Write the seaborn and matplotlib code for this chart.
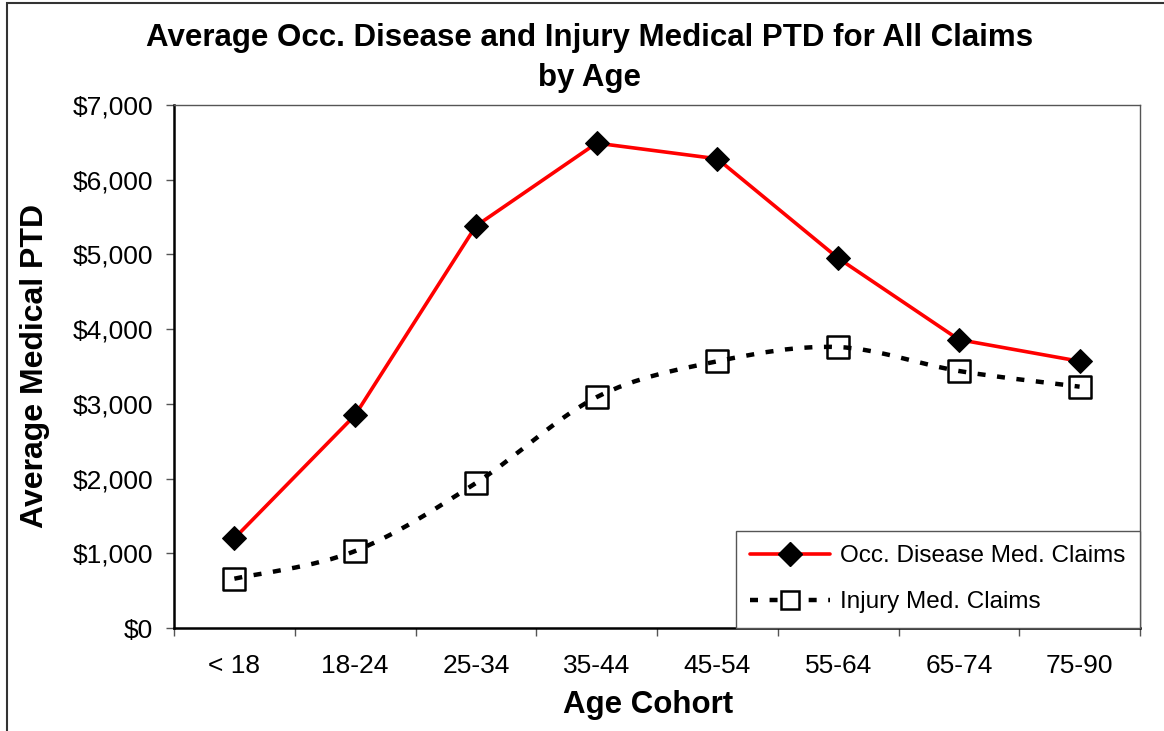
import numpy as np
import pandas as pd
import matplotlib
matplotlib.use('Agg')
import matplotlib.pyplot as plt
from matplotlib.path import Path
from matplotlib.patches import PathPatch, Rectangle
from matplotlib.lines import Line2D
from matplotlib.ticker import FuncFormatter
import seaborn as sns

# data
age_cohorts = ['< 18', '18-24', '25-34', '35-44', '45-54', '55-64', '65-74', '75-90']
occ_disease = [1200, 2850, 5380, 6490, 6280, 4950, 3860, 3570]
injury = [660, 1030, 1940, 3090, 3570, 3760, 3440, 3230]

title = 'Average Occ. Disease and Injury Medical PTD for All Claims\nby Age'
occ_label = 'Occ. Disease Med. Claims'
inj_label = 'Injury Med. Claims'


def smooth_path(xs, ys):
    # Excel-style smoothed line: Catmull-Rom segments as cubic Bezier curves
    pts = np.column_stack([xs, ys]).astype(float)
    verts = [pts[0]]
    codes = [Path.MOVETO]
    n = len(pts)
    for i in range(n - 1):
        p0 = pts[i - 1] if i > 0 else pts[i]
        p1 = pts[i]
        p2 = pts[i + 1]
        p3 = pts[i + 2] if i + 2 < n else pts[i + 1]
        c1 = p1 + (p2 - p0) / 6.0
        c2 = p2 - (p3 - p1) / 6.0
        verts += [c1, c2, p2]
        codes += [Path.CURVE4] * 3
    return Path(verts, codes)


def main():
    sns.set_style('white')
    plt.rcParams['font.family'] = ['Liberation Sans', 'DejaVu Sans']
    plt.rcParams['text.color'] = 'black'
    plt.rcParams['xtick.color'] = 'black'
    plt.rcParams['ytick.color'] = 'black'
    plt.rcParams['axes.labelcolor'] = 'black'

    df = pd.DataFrame({'pos': np.arange(len(age_cohorts)),
                       'cohort': age_cohorts,
                       'occ': occ_disease,
                       'inj': injury})

    fig = plt.figure(figsize=(11.64, 7.31), dpi=100)
    ax = fig.add_axes([174 / 1164, 1 - 628 / 731, (1140 - 174) / 1164, (628 - 105) / 731])

    # red series: straight segments, black diamonds
    sns.lineplot(data=df, x='pos', y='occ', ax=ax, color='#ff0000', linewidth=2.6,
                 marker='D', markersize=12, markerfacecolor='black',
                 markeredgecolor='black', zorder=3)

    # injury series: white squares with a smoothed dotted line on top
    sns.scatterplot(data=df, x='pos', y='inj', ax=ax, marker='s', s=230,
                    facecolor='white', edgecolor='black', linewidth=1.8, zorder=3)
    patch = PathPatch(smooth_path(df['pos'], df['inj']), fill=False, edgecolor='black',
                      linewidth=3.2, linestyle=(0, (1.8, 2.6)), zorder=4)
    ax.add_patch(patch)

    ax.set_xlim(-0.5, len(age_cohorts) - 0.5)
    ax.set_ylim(0, 7000)
    ax.set_yticks(np.arange(0, 7001, 1000))
    ax.yaxis.set_major_formatter(FuncFormatter(lambda v, p: '${:,.0f}'.format(v)))

    # ticks between categories, labels at centres
    ax.set_xticks(np.arange(-0.5, len(age_cohorts), 1.0))
    ax.set_xticklabels([])
    ax.set_xticks(np.arange(len(age_cohorts)), minor=True)
    ax.set_xticklabels(age_cohorts, minor=True)
    ax.tick_params(axis='x', which='major', direction='out', length=6, width=1,
                   color='#555555', bottom=True)
    ax.tick_params(axis='x', which='minor', length=0, pad=19, labelsize=19,
                   labelcolor='black')
    ax.tick_params(axis='y', direction='out', length=6, width=1, color='#555555',
                   left=True, pad=9, labelsize=19, labelcolor='black')

    for side in ['left', 'bottom']:
        ax.spines[side].set_color('black')
        ax.spines[side].set_linewidth(1.8)
    for side in ['top', 'right']:
        ax.spines[side].set_visible(True)
        ax.spines[side].set_color('#555555')
        ax.spines[side].set_linewidth(1.0)

    ax.set_xlabel('')
    ax.set_ylabel('')
    fig.text(35 / 1164, 1 - 366 / 731, 'Average Medical PTD', rotation=90,
             ha='center', va='center', fontsize=23, fontweight='bold')
    fig.text(648 / 1164, 1 - 705 / 731, 'Age Cohort', ha='center', va='center',
             fontsize=22.5, fontweight='bold')
    fig.text(590 / 1164, 1 - 58 / 731, title, ha='center', va='center',
             fontsize=22.5, fontweight='bold', linespacing=1.45)

    handles = [
        Line2D([], [], color='#ff0000', linewidth=2.6, marker='D', markersize=12,
               markerfacecolor='black', markeredgecolor='black'),
        Line2D([], [], color='black', linewidth=3.2, linestyle=(0, (1.8, 2.6)),
               marker='s', markersize=13, markerfacecolor='white',
               markeredgecolor='black', markeredgewidth=1.8),
    ]
    leg = ax.legend(handles, [occ_label, inj_label], loc='lower right',
                    bbox_to_anchor=(1.0, 0.0), borderaxespad=0, fontsize=17.5,
                    frameon=True, fancybox=False, handlelength=3.3,
                    labelspacing=1.0, borderpad=0.6, handletextpad=0.4)
    leg.get_frame().set_edgecolor('#555555')
    leg.get_frame().set_linewidth(1.0)
    leg.get_frame().set_alpha(1)

    # outer chart border (only left and top visible in the crop)
    fig.patches.append(Rectangle((7 / 1164, -0.05), 1.2, 1 - 3 / 731 + 0.05,
                                 transform=fig.transFigure, fill=False,
                                 edgecolor='#333333', linewidth=1.5))

    fig.savefig('out.png', dpi=100)
    plt.close(fig)


if __name__ == '__main__':
    main()
